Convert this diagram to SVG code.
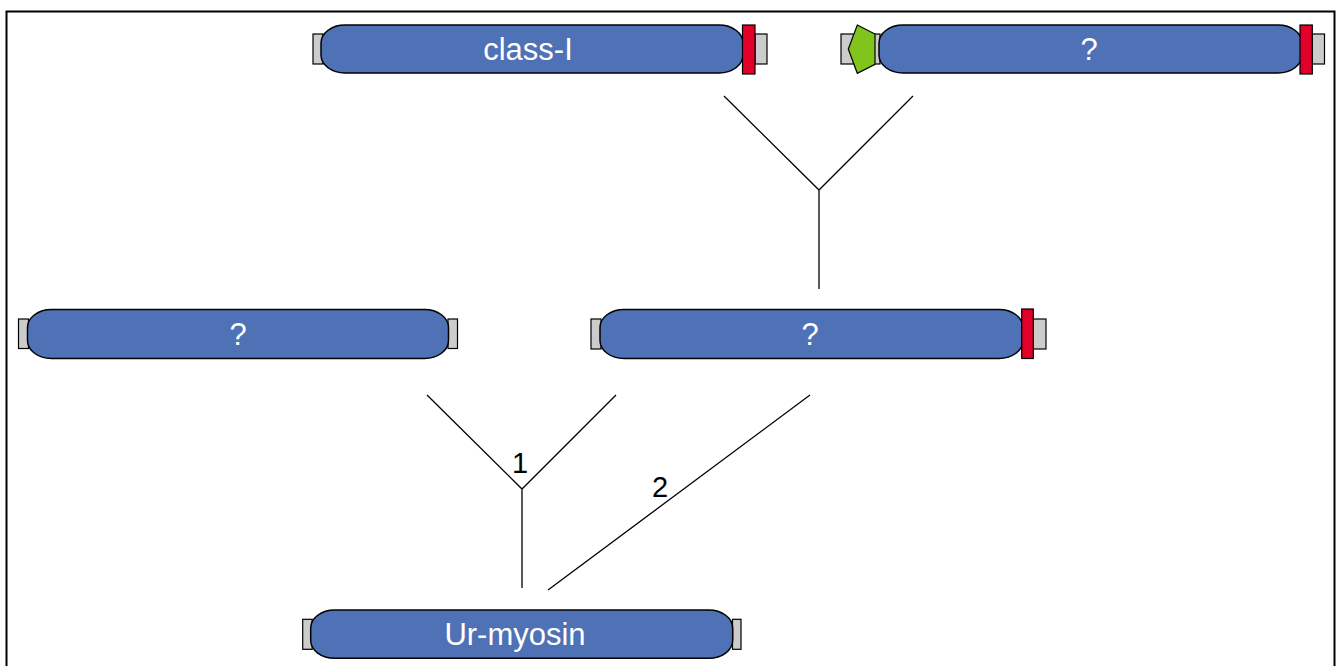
<svg xmlns="http://www.w3.org/2000/svg" width="1336" height="666" viewBox="0 0 1336 666">
<style>
.cap{fill:#cccccc;stroke:#000;stroke-width:1.2}
.body{fill:#4f71b5;stroke:#000;stroke-width:1.5}
.red{fill:#e0002a;stroke:#000;stroke-width:1.2}
.green{fill:#80c41c;stroke:#000;stroke-width:1.2}
.lbl{font-family:"Liberation Sans",Arial,sans-serif;font-size:31px;fill:#fff;text-anchor:middle}
.num{font-family:"Liberation Sans",Arial,sans-serif;font-size:29px;fill:#000;text-anchor:middle}
.ln{stroke:#000;stroke-width:1.3;fill:none}
</style>
<rect x="0" y="0" width="1336" height="666" fill="#fff"/>
<rect x="6.5" y="11.5" width="1328" height="700" fill="none" stroke="#000" stroke-width="2"/>
<g id="connectors">
<path class="ln" d="M724,96 L819,190 L913,96 M819,190 L819,289"/>
<path class="ln" d="M427,395 L522,489 L616,395 M522,489 L522,588"/>
<path class="ln" d="M810,395 L548,590"/>
<text class="num" x="520" y="473">1</text>
<text class="num" x="660" y="497">2</text>
</g>
<g id="node-class-I">
<rect class="cap" x="313" y="34" width="10" height="30"/>
<rect class="cap" x="755" y="34" width="12" height="30"/>
<rect class="body" x="321" y="25" width="422" height="48" rx="24" ry="18"/>
<rect class="red" x="742.5" y="25" width="12.5" height="49"/>
<text class="lbl" x="528" y="60">class-I</text>
</g>
<g id="node-top-right">
<rect class="cap" x="841" y="34" width="39" height="30"/>
<rect class="cap" x="1312" y="34" width="12.5" height="30"/>
<rect class="body" x="879" y="25" width="423" height="48" rx="24" ry="18"/>
<polygon class="green" points="857.3,25 875,34 875,64.3 857.3,73.3 848.3,49"/>
<rect class="red" x="1300" y="25" width="12.3" height="49"/>
<text class="lbl" x="1089" y="60">?</text>
</g>
<g id="node-mid-left">
<rect class="cap" x="18.5" y="319" width="10" height="29.5"/>
<rect class="cap" x="448" y="319" width="9.5" height="29.5"/>
<rect class="body" x="27.5" y="309.5" width="421" height="49" rx="24" ry="18"/>
<text class="lbl" x="238" y="345">?</text>
</g>
<g id="node-mid">
<rect class="cap" x="591" y="319" width="10" height="30"/>
<rect class="cap" x="1033" y="319" width="13" height="30"/>
<rect class="body" x="600" y="309.5" width="423" height="49" rx="24" ry="18"/>
<rect class="red" x="1021.7" y="309" width="11.6" height="49.5"/>
<text class="lbl" x="810" y="345">?</text>
</g>
<g id="node-ur-myosin">
<rect class="cap" x="302.7" y="619.3" width="9.5" height="30"/>
<rect class="cap" x="732.5" y="619.3" width="8.5" height="30"/>
<rect class="body" x="310.7" y="610" width="422" height="48.3" rx="24" ry="18"/>
<text class="lbl" x="515" y="645">Ur-myosin</text>
</g>
</svg>
